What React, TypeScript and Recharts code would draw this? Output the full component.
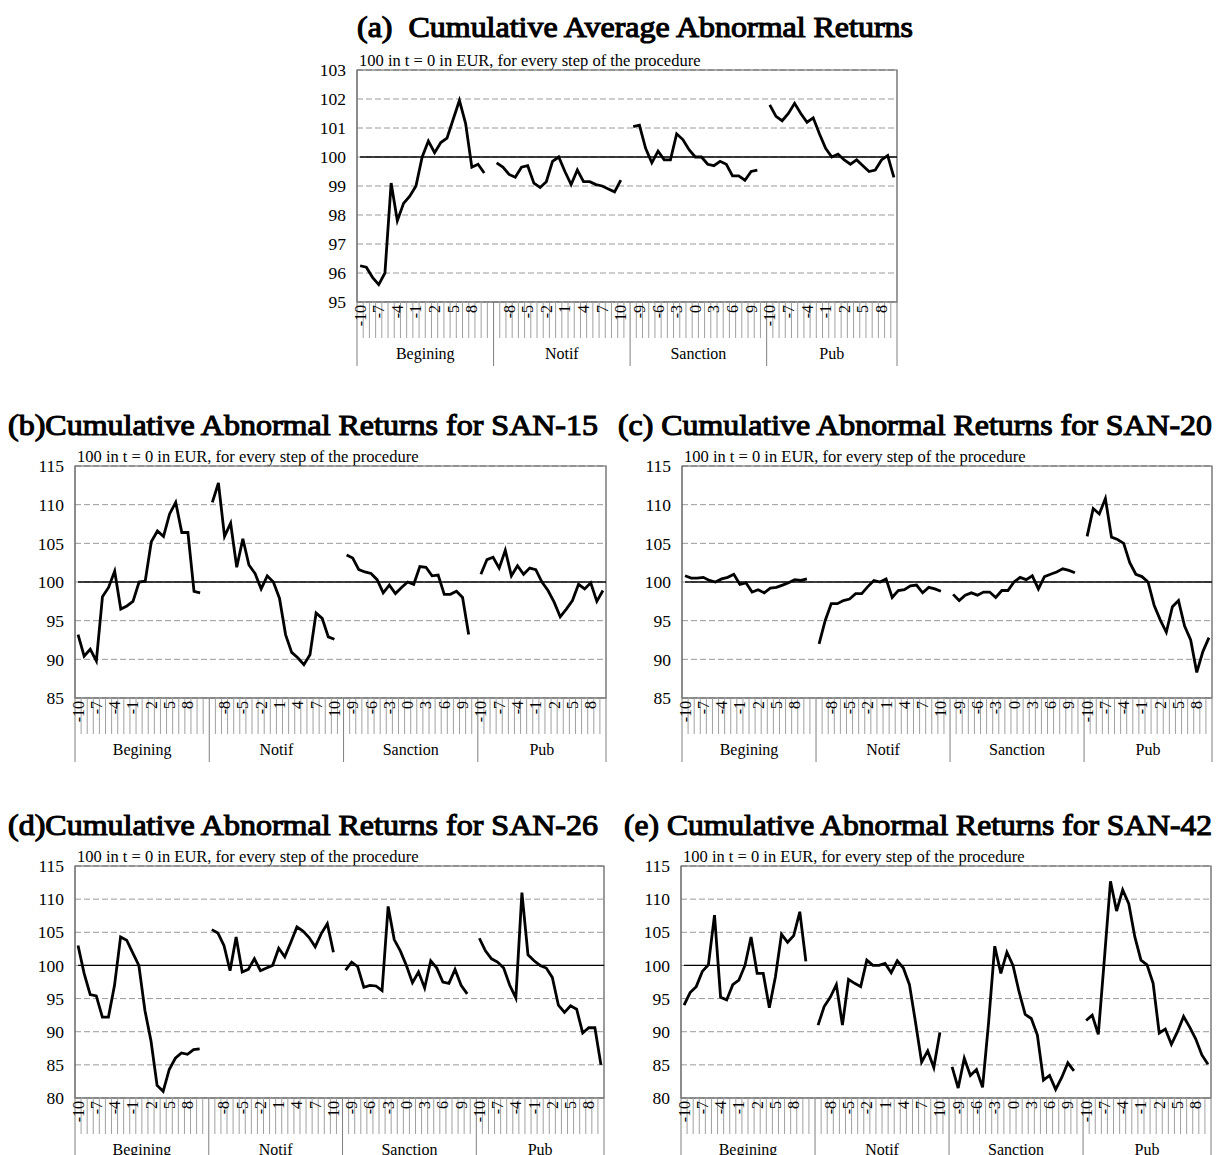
import React from 'react';
import { LineChart, Line, XAxis, YAxis, CartesianGrid, ReferenceLine, ReferenceArea } from 'recharts';

const groups = ['Begining', 'Notif', 'Sanction', 'Pub'];
const tLabels = [-10, -9, -8, -7, -6, -5, -4, -3, -2, -1, 0, 1, 2, 3, 4, 5, 6, 7, 8, 9, 10];
const subtitle = '100 in t = 0 in EUR, for every step of the procedure';

// (a) CAAR
const aBegining = [96.25, 96.2, 95.85, 95.6, 96.0, 99.1, 97.8, 98.4, 98.65, 99.0, 100.0, 100.55, 100.15, 100.5, 100.65, 101.3, 101.95, 101.15, 99.65, 99.75, 99.45];
const aNotif = [99.8, 99.65, 99.4, 99.3, 99.65, 99.7, 99.1, 98.95, 99.15, 99.85, 100.0, 99.5, 99.05, 99.55, 99.15, 99.15, 99.05, 99.0, 98.9, 98.8, 99.2];
const aSanction = [101.05, 101.1, 100.3, 99.8, 100.2, 99.9, 99.9, 100.8, 100.6, 100.25, 100.0, 100.0, 99.75, 99.7, 99.85, 99.75, 99.35, 99.35, 99.2, 99.5, 99.55];
const aPub = [101.8, 101.4, 101.25, 101.5, 101.85, 101.5, 101.2, 101.35, 100.8, 100.3, 100.0, 100.1, 99.9, 99.75, 99.9, 99.7, 99.5, 99.55, 99.9, 100.05, 99.3];

// (b) SAN-15
const bBegining = [93.2, 90.4, 91.3, 89.8, 98.1, 99.3, 101.4, 96.5, 96.9, 97.5, 100.0, 100.1, 105.2, 106.6, 105.9, 108.8, 110.3, 106.4, 106.4, 98.8, 98.6];
const bNotif = [110.3, 112.8, 105.9, 107.6, 101.9, 105.6, 102.2, 101.1, 99.1, 100.8, 100.0, 97.9, 93.2, 90.9, 90.2, 89.3, 90.6, 96.0, 95.3, 92.9, 92.6];
const bSanction = [103.5, 103.1, 101.6, 101.3, 101.1, 100.3, 98.6, 99.6, 98.5, 99.3, 100.0, 99.7, 102.0, 101.9, 100.8, 100.9, 98.4, 98.4, 98.8, 98.0, 93.2];
const bPub = [101.0, 102.9, 103.2, 101.8, 104.1, 100.8, 102.1, 101.0, 101.8, 101.6, 100.0, 98.9, 97.4, 95.5, 96.5, 97.6, 99.7, 99.1, 99.9, 97.5, 98.9];

// (c) SAN-20
const cBegining = [100.8, 100.5, 100.5, 100.6, 100.2, 100.0, 100.4, 100.6, 101.0, 99.7, 99.9, 98.7, 99.0, 98.6, 99.2, 99.3, 99.6, 99.9, 100.3, 100.2, 100.4];
const cNotif = [92.0, 95.0, 97.2, 97.2, 97.6, 97.8, 98.5, 98.5, 99.4, 100.2, 100.0, 100.4, 98.0, 98.9, 99.0, 99.5, 99.6, 98.6, 99.3, 99.1, 98.8];
const cSanction = [98.4, 97.6, 98.3, 98.6, 98.3, 98.7, 98.7, 98.0, 98.9, 98.9, 100.0, 100.6, 100.3, 100.8, 99.1, 100.7, 101.0, 101.3, 101.7, 101.5, 101.2];
const cPub = [105.9, 109.5, 108.8, 110.8, 105.8, 105.5, 105.0, 102.5, 101.0, 100.7, 100.0, 97.0, 95.1, 93.5, 96.8, 97.6, 94.3, 92.5, 88.3, 91.0, 92.8];

// (d) SAN-26
const dBegining = [103.0, 98.8, 95.6, 95.4, 92.2, 92.2, 97.0, 104.3, 103.8, 101.9, 100.0, 93.2, 88.6, 81.9, 81.0, 84.3, 86.0, 86.8, 86.6, 87.3, 87.4];
const dNotif = [105.4, 104.9, 103.0, 99.2, 104.3, 99.0, 99.4, 101.0, 99.2, 99.6, 100.0, 102.6, 101.3, 103.5, 105.8, 105.2, 104.2, 102.8, 104.8, 106.3, 102.0];
const dSanction = [99.3, 100.5, 99.8, 96.7, 97.0, 96.9, 96.2, 108.9, 103.9, 102.2, 100.0, 97.4, 99.0, 96.6, 100.7, 99.6, 97.5, 97.3, 99.4, 97.0, 95.7];
const dPub = [104.1, 102.2, 101.0, 100.5, 99.6, 97.0, 95.1, 111.0, 101.6, 100.7, 100.0, 99.6, 98.2, 94.0, 92.9, 93.9, 93.4, 89.8, 90.6, 90.6, 85.0];

// (e) SAN-42
const eBegining = [94.0, 95.9, 96.8, 99.1, 100.1, 107.6, 95.2, 94.8, 97.1, 97.8, 100.0, 104.3, 98.8, 98.8, 93.6, 98.3, 104.7, 103.5, 104.5, 108.1, 100.6];
const eNotif = [91.0, 93.8, 95.2, 97.1, 91.0, 97.9, 97.3, 96.8, 100.8, 100.0, 100.0, 100.3, 98.9, 100.7, 99.6, 97.1, 91.4, 85.4, 87.1, 84.6, 89.9];
const eSanction = [84.7, 81.5, 86.0, 83.4, 84.3, 81.6, 91.5, 102.9, 98.8, 102.0, 100.0, 96.0, 92.6, 92.0, 89.5, 82.7, 83.4, 81.3, 83.1, 85.3, 84.1];
const ePub = [91.7, 92.5, 89.6, 101.0, 112.7, 108.2, 111.4, 109.3, 104.3, 100.8, 100.1, 97.3, 89.8, 90.4, 88.1, 90.0, 92.3, 90.7, 88.9, 86.5, 85.1];

const ticksA = [95, 96, 97, 98, 99, 100, 101, 102, 103];
const ticksB = [85, 90, 95, 100, 105, 110, 115];
const ticksD = [80, 85, 90, 95, 100, 105, 110, 115];

const FONT = '"Liberation Serif", "Times New Roman", serif';
const PLOT_H = 232;
const TOP_M = 12;
const RIGHT_M = 4;
const Y_W = 56;
const X_H = 72;

type Row = { slot: number; group: number; t: number | null; v: number | null; last: boolean };

function buildData(series: number[][]): Row[] {
  const rows: Row[] = [];
  series.forEach((vals, g) => {
    const n = g < series.length - 1 ? tLabels.length + 1 : tLabels.length;
    for (let i = 0; i < n; i++) {
      rows.push({
        slot: rows.length,
        group: g,
        t: i < tLabels.length ? tLabels[i] : null,
        v: i < vals.length ? vals[i] : null,
        last: i === n - 1,
      });
    }
  });
  return rows;
}

function makeTick(rows: Row[], step: number) {
  const centers = groups.map((_, g) => {
    const rs = rows.filter((r) => r.group === g);
    return (rs[0].slot + rs[rs.length - 1].slot) / 2;
  });
  return (props: any) => {
    const { x, y, payload } = props;
    const s = payload.value as number;
    const row = rows[s];
    if (!row) return <g />;
    const els: React.ReactNode[] = [];
    const bx = x + step / 2;
    els.push(
      <line key="b" x1={bx} x2={bx} y1={y} y2={y + (row.last ? 64 : 36)} stroke={row.last ? '#7f7f7f' : '#a0a0a0'} strokeWidth={1} />
    );
    if (s === 0) {
      els.push(<line key="l" x1={x - step / 2} x2={x - step / 2} y1={y} y2={y + 64} stroke="#7f7f7f" strokeWidth={1} />);
    }
    if (row.t !== null && s % 3 === 0) {
      const ty = y + 3;
      els.push(
        <text key="t" x={x} y={ty} transform={`rotate(-90 ${x} ${ty})`} textAnchor="end" dominantBaseline="central" fontSize={16} fontFamily={FONT} fill="#000">
          {row.t}
        </text>
      );
    }
    const c = centers[row.group];
    if (Math.floor(c) === s) {
      els.push(
        <text key="g" x={x + (c - s) * step} y={y + 57} textAnchor="middle" fontSize={16} fontFamily={FONT} fill="#000">
          {groups[row.group]}
        </text>
      );
    }
    return <g>{els}</g>;
  };
}

type PanelProps = {
  left: number;
  right: number;
  top: number;
  series: number[][];
  yTicks: number[];
};

function Panel({ left, right, top, series, yTicks }: PanelProps) {
  const rows = buildData(series);
  const plotW = right - left;
  const step = plotW / rows.length;
  const width = Y_W + plotW + RIGHT_M;
  const height = TOP_M + PLOT_H + X_H;
  const lo = yTicks[0];
  const hi = yTicks[yTicks.length - 1];
  const maxSlot = rows.length - 1;
  return (
    <div style={{ position: 'absolute', left: left - Y_W, top: top - TOP_M, width, height }}>
      <LineChart width={width} height={height} data={rows} margin={{ top: TOP_M, right: RIGHT_M, left: 0, bottom: 0 }}>
        <CartesianGrid horizontal vertical={false} stroke="#9a9a9a" strokeDasharray="6 3" />
        <XAxis
          dataKey="slot"
          type="number"
          domain={[-0.5, maxSlot + 0.5]}
          ticks={rows.map((r) => r.slot)}
          interval={0}
          tick={makeTick(rows, step)}
          tickLine={false}
          tickSize={0}
          tickMargin={0}
          height={X_H}
          axisLine={{ stroke: '#7f7f7f' }}
        />
        <YAxis
          type="number"
          domain={[lo, hi]}
          ticks={yTicks}
          interval={0}
          width={Y_W}
          tickLine={false}
          tickMargin={5}
          axisLine={{ stroke: '#7f7f7f' }}
          tick={{ fontSize: 17.5, fontFamily: FONT, fill: '#000' }}
        />
        <ReferenceArea x1={-0.5} x2={maxSlot + 0.5} y1={lo} y2={hi} fill="none" stroke="#595959" strokeWidth={1.2} ifOverflow="visible" />
        <ReferenceLine
          segment={[{ x: 0, y: 100 }, { x: maxSlot + 0.5, y: 100 }]}
          stroke="#000"
          strokeWidth={1.3}
          ifOverflow="visible"
        />
        <Line type="linear" dataKey="v" stroke="#000" strokeWidth={2.8} dot={false} connectNulls={false} isAnimationActive={false} />
      </LineChart>
    </div>
  );
}

const panels = [
  { key: 'a', left: 357, right: 897, top: 70, series: [aBegining, aNotif, aSanction, aPub], yTicks: ticksA },
  { key: 'b', left: 75, right: 606, top: 466, series: [bBegining, bNotif, bSanction, bPub], yTicks: ticksB },
  { key: 'c', left: 682, right: 1212, top: 466, series: [cBegining, cNotif, cSanction, cPub], yTicks: ticksB },
  { key: 'd', left: 75, right: 604, top: 866, series: [dBegining, dNotif, dSanction, dPub], yTicks: ticksD },
  { key: 'e', left: 681, right: 1211, top: 866, series: [eBegining, eNotif, eSanction, ePub], yTicks: ticksD },
];

const titles = [
  { text: '(a)  Cumulative Average Abnormal Returns', x: 357, y: 37, w: 556 },
  { text: '(b)Cumulative Abnormal Returns for SAN-15', x: 8, y: 435, w: 590 },
  { text: '(c) Cumulative Abnormal Returns for SAN-20', x: 618, y: 435, w: 594 },
  { text: '(d)Cumulative Abnormal Returns for SAN-26', x: 8, y: 835, w: 590 },
  { text: '(e) Cumulative Abnormal Returns for SAN-42', x: 624, y: 835, w: 588 },
];

export default function App() {
  return (
    <div style={{ position: 'absolute', left: 0, top: 0, width: 1216, height: 1155, background: '#fff', overflow: 'hidden' }}>
      <svg width={1216} height={1155} style={{ position: 'absolute', left: 0, top: 0 }}>
        {titles.map((t) => (
          <text
            key={t.text}
            x={t.x}
            y={t.y}
            fontSize={29}
            fontFamily="Liberation Serif"
            textLength={t.w}
            lengthAdjust="spacingAndGlyphs"
            style={{ whiteSpace: 'pre' }}
            fill="#000"
            stroke="#000"
            strokeWidth={1.1}
          >
            {t.text}
          </text>
        ))}
        {panels.map((p) => (
          <text key={'s' + p.key} x={p.left + 2} y={p.top - 4} fontSize={16.5} fontFamily={FONT} fill="#000">
            {subtitle}
          </text>
        ))}
      </svg>
      {panels.map((p) => (
        <Panel key={p.key} left={p.left} right={p.right} top={p.top} series={p.series} yTicks={p.yTicks} />
      ))}
    </div>
  );
}
